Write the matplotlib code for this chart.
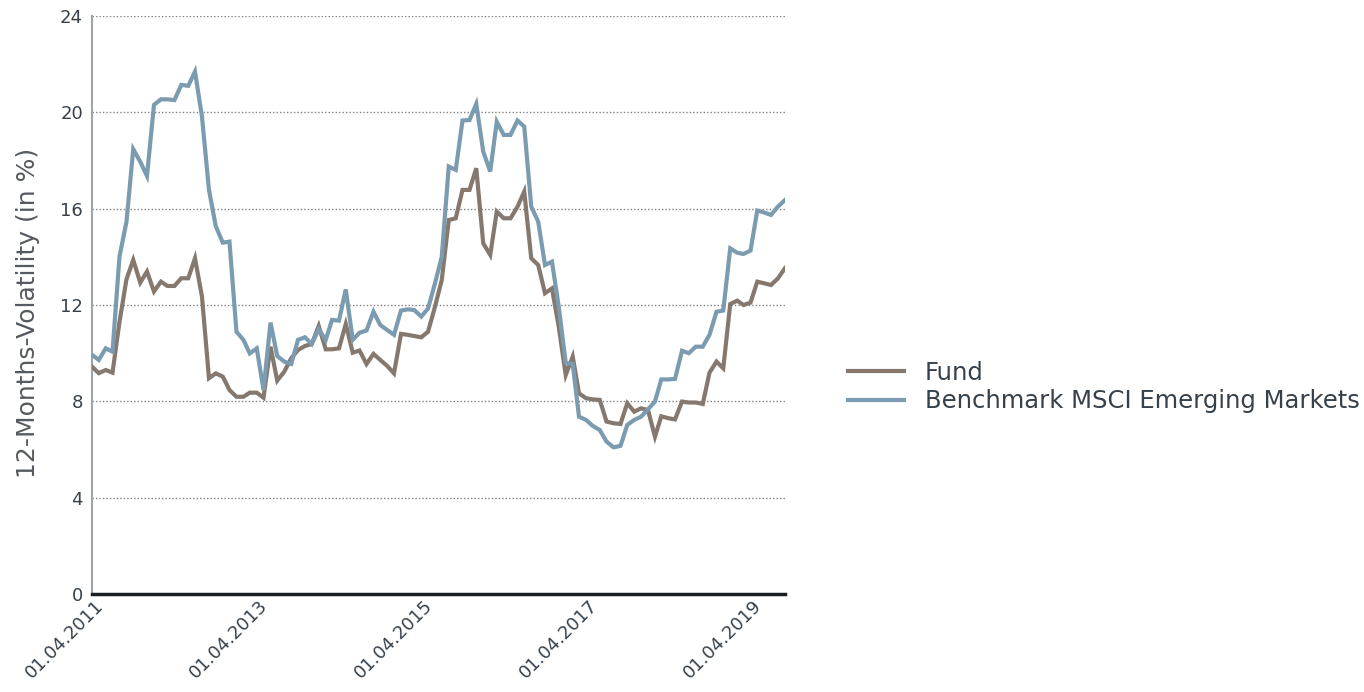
import matplotlib
matplotlib.use("Agg")
import matplotlib.pyplot as plt
import matplotlib.dates as mdates
import matplotlib.transforms as mtransforms
import pandas as pd

# monthly 12-month volatility, Apr 2011 - Sep 2019
start_month = "2011-04-01"

fund = [
    9.44, 9.17, 9.30, 9.19, 11.3, 13.07, 13.87, 12.93, 13.39, 12.56,
    12.97, 12.79, 12.79, 13.11, 13.11, 13.94, 12.35, 8.96, 9.16, 9.03,
    8.47, 8.19, 8.19, 8.36, 8.36, 8.15, 10.27, 8.86, 9.23, 9.79,
    10.13, 10.30, 10.38, 11.13, 10.16, 10.16, 10.20, 11.21, 10.02, 10.11,
    9.55, 9.97, 9.72, 9.47, 9.16, 10.80, 10.76, 10.71, 10.66, 10.89,
    11.93, 13.04, 15.53, 15.60, 16.78, 16.78, 17.68, 14.56, 14.08, 15.88,
    15.60, 15.60, 16.08, 16.71, 13.94, 13.66, 12.49, 12.69, 11.10, 9.09,
    9.86, 8.33, 8.13, 8.08, 8.06, 7.16, 7.09, 7.06, 7.92, 7.57,
    7.71, 7.64, 6.53, 7.38, 7.30, 7.25, 7.99, 7.95, 7.95, 7.89,
    9.19, 9.65, 9.37, 12.04, 12.18, 12.00, 12.10, 12.97, 12.90, 12.83,
    13.11, 13.53,
]

benchmark = [
    9.93, 9.72, 10.20, 10.06, 14.01, 15.46, 18.47, 17.95, 17.36, 20.31,
    20.54, 20.54, 20.51, 21.14, 21.10, 21.69, 19.82, 16.78, 15.28, 14.59,
    14.63, 10.89, 10.55, 9.99, 10.20, 8.47, 11.27, 9.88, 9.65, 9.55,
    10.55, 10.66, 10.38, 10.99, 10.55, 11.38, 11.35, 12.65, 10.55, 10.85,
    10.94, 11.72, 11.17, 10.96, 10.76, 11.77, 11.82, 11.79, 11.52, 11.85,
    12.90, 14.01, 17.75, 17.61, 19.66, 19.68, 20.35, 18.37, 17.54, 19.61,
    19.06, 19.06, 19.66, 19.41, 16.09, 15.46, 13.66, 13.80, 11.93, 9.60,
    9.55, 7.36, 7.23, 6.98, 6.81, 6.33, 6.09, 6.15, 7.02, 7.23,
    7.36, 7.67, 7.99, 8.91, 8.91, 8.93, 10.10, 10.00, 10.27, 10.27,
    10.76, 11.72, 11.77, 14.35, 14.17, 14.12, 14.26, 15.92, 15.84, 15.74,
    16.09, 16.36,
]

labels = ["Fund", "Benchmark MSCI Emerging Markets"]
y_ticks = [0, 4, 8, 12, 16, 20, 24]
x_tick_dates = ["2011-04-01", "2013-04-01", "2015-04-01", "2017-04-01", "2019-04-01"]

FUND_COLOR = "#85786e"
BENCH_COLOR = "#7b9cb0"
TEXT_COLOR = "#36414b"

plt.rcParams["font.family"] = ["DejaVu Sans"]

dates = pd.date_range(start_month, periods=len(fund), freq="MS")

fig = plt.figure(figsize=(13.64, 6.92), dpi=100)
ax = fig.add_axes([92 / 1364, 1 - 594 / 692, (785 - 92) / 1364, (594 - 16) / 692])

ax.plot(dates, fund, color=FUND_COLOR, lw=3.0, label=labels[0], zorder=3,
        solid_joinstyle="miter")
ax.plot(dates, benchmark, color=BENCH_COLOR, lw=3.0, label=labels[1], zorder=3,
        solid_joinstyle="miter")

ax.set_xlim(dates[0], dates[-1])
ax.set_ylim(0, 24)
ax.set_yticks(y_ticks)

# dotted grid, no line at zero (axis line sits there)
for y in y_ticks[1:]:
    ax.axhline(y, color="#808080", lw=1.0, ls=(0, (1, 1.5)), zorder=1)

for s in ["top", "right"]:
    ax.spines[s].set_visible(False)
ax.spines["left"].set_color("#a0a4a8")
ax.spines["left"].set_linewidth(1.5)
ax.spines["bottom"].set_color("#1c1f22")
ax.spines["bottom"].set_linewidth(2.5)
ax.spines["bottom"].set_zorder(4)

ax.tick_params(axis="both", length=0, labelsize=13, colors=TEXT_COLOR)
ax.tick_params(axis="y", pad=6.5)

ax.set_xticks(pd.to_datetime(x_tick_dates))
ax.xaxis.set_major_formatter(mdates.DateFormatter("%d.%m.%Y"))
offset = mtransforms.ScaledTranslation(2 / 100, 2 / 100, fig.dpi_scale_trans)
for lbl in ax.get_xticklabels():
    lbl.set_rotation(45)
    lbl.set_ha("right")
    lbl.set_va("top")
    lbl.set_rotation_mode("anchor")
    lbl.set_transform(lbl.get_transform() + offset)

ax.set_ylabel("12-Months-Volatility (in %)", fontsize=18, color="#555a60")
ax.yaxis.set_label_coords(-0.075, 0.486)

fig.legend(loc="center left", bbox_to_anchor=(848 / 1364, 1 - 387 / 692),
           frameon=False, fontsize=17.5, handlelength=2.3, handletextpad=0.85,
           labelspacing=0.2, borderpad=0, borderaxespad=0,
           labelcolor=TEXT_COLOR)

fig.savefig("out.png", dpi=100, facecolor="white")
